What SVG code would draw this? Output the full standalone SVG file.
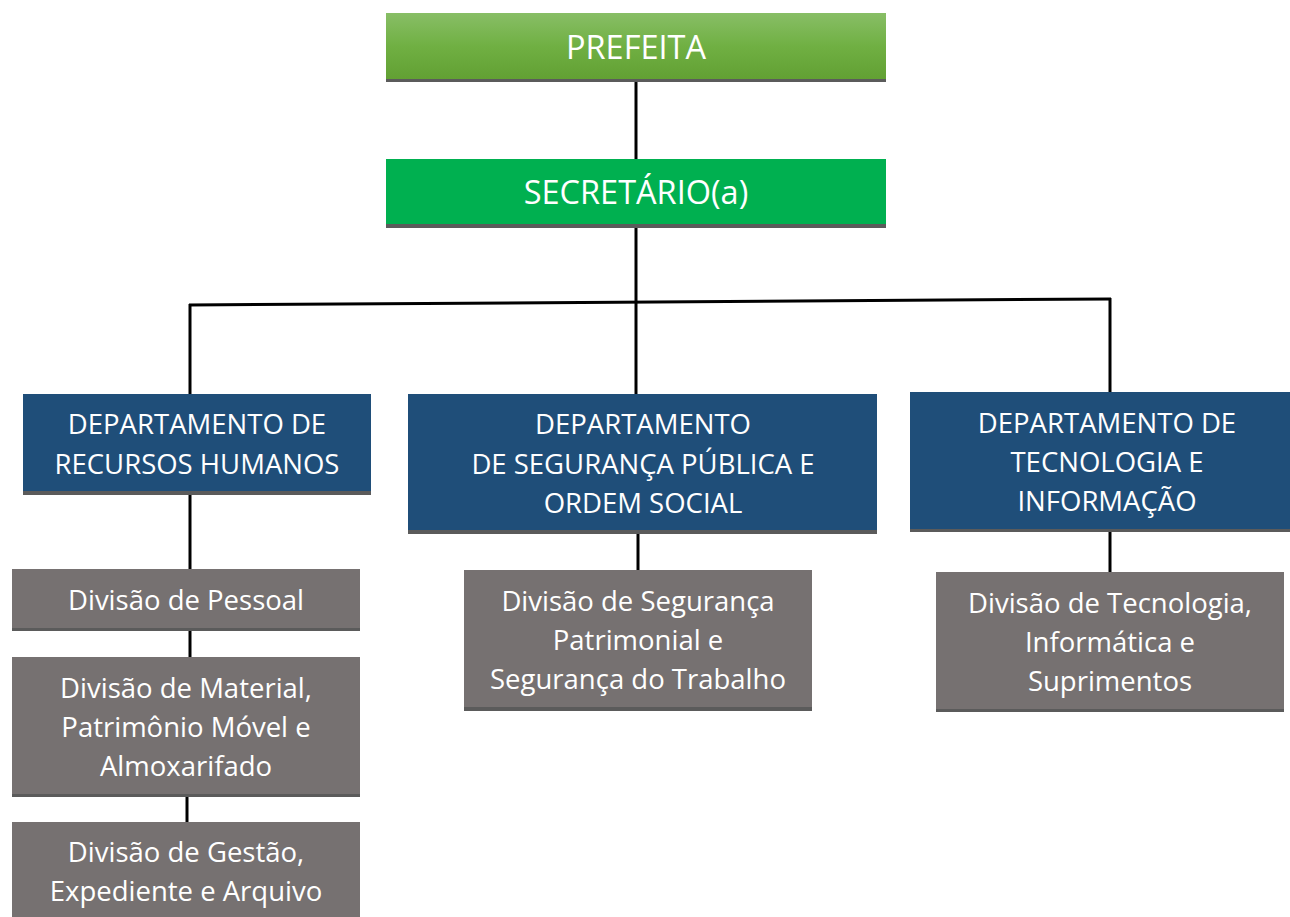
<svg xmlns="http://www.w3.org/2000/svg" width="1290" height="917" viewBox="0 0 1290 917">
<defs>
<linearGradient id="gPref" x1="0" y1="0" x2="0" y2="1">
<stop offset="0" stop-color="#88be66"/>
<stop offset="0.5" stop-color="#70b043"/>
<stop offset="1" stop-color="#62a033"/>
</linearGradient>
</defs>
<style>
.t{font-family:"Open Sans","Liberation Sans",sans-serif;fill:#ffffff;text-anchor:middle;font-size:27.5px}
.big{font-size:32.5px}
.sh{fill:#5b5b5b}
.dept{fill:#1f4e79}
.div{fill:#767171}
.c{stroke:#000;stroke-width:3;fill:none}
</style>
<g id="connectors">
<line class="c" x1="636" y1="80" x2="636" y2="160"/>
<line class="c" x1="636" y1="226" x2="636" y2="303"/>
<line class="c" x1="189" y1="305" x2="1111" y2="299"/>
<line class="c" x1="190" y1="304" x2="190" y2="395"/>
<line class="c" x1="636" y1="302" x2="636" y2="395"/>
<line class="c" x1="1110" y1="298" x2="1110" y2="393"/>
<line class="c" x1="190" y1="494" x2="190" y2="570"/>
<line class="c" x1="190" y1="630" x2="190" y2="658"/>
<line class="c" x1="187" y1="796" x2="187" y2="823"/>
<line class="c" x1="638" y1="533" x2="638" y2="571"/>
<line class="c" x1="1110" y1="531" x2="1110" y2="573"/>
</g>
<g id="prefeita">
<rect class="sh" x="386" y="13" width="500" height="69"/>
<rect x="386" y="13" width="500" height="66" fill="url(#gPref)"/>
<text class="t big" x="636" y="59">PREFEITA</text>
</g>
<g id="secretario">
<rect class="sh" x="386" y="159" width="500" height="69"/>
<rect x="386" y="159" width="500" height="65" fill="#00b050"/>
<text class="t big" x="636" y="204">SECRETÁRIO(a)</text>
</g>
<g id="dept-rh">
<rect class="sh" x="23" y="394" width="348" height="101"/>
<rect class="dept" x="23" y="394" width="348" height="97"/>
<text class="t" x="197" y="434">DEPARTAMENTO DE</text>
<text class="t" x="197" y="474">RECURSOS HUMANOS</text>
</g>
<g id="dept-seg">
<rect class="sh" x="408" y="394" width="469" height="140"/>
<rect class="dept" x="408" y="394" width="469" height="136"/>
<text class="t" x="643" y="434">DEPARTAMENTO</text>
<text class="t" x="643" y="474">DE SEGURANÇA PÚBLICA E</text>
<text class="t" x="643" y="513">ORDEM SOCIAL</text>
</g>
<g id="dept-tec">
<rect class="sh" x="910" y="392" width="394" height="140"/>
<rect class="dept" x="910" y="392" width="394" height="137"/>
<text class="t" x="1107" y="433">DEPARTAMENTO DE</text>
<text class="t" x="1107" y="472">TECNOLOGIA E</text>
<text class="t" x="1107" y="511">INFORMAÇÃO</text>
</g>
<g id="div-pessoal">
<rect class="sh" x="12" y="569" width="348" height="62"/>
<rect class="div" x="12" y="569" width="348" height="59"/>
<text class="t" x="186" y="610">Divisão de Pessoal</text>
</g>
<g id="div-material">
<rect class="sh" x="12" y="657" width="348" height="140"/>
<rect class="div" x="12" y="657" width="348" height="137"/>
<text class="t" x="186" y="698">Divisão de Material,</text>
<text class="t" x="186" y="737">Patrimônio Móvel e</text>
<text class="t" x="186" y="776">Almoxarifado</text>
</g>
<g id="div-gestao">
<rect class="div" x="12" y="822" width="348" height="95"/>
<text class="t" x="186" y="862">Divisão de Gestão,</text>
<text class="t" x="186" y="901">Expediente e Arquivo</text>
</g>
<g id="div-seguranca">
<rect class="sh" x="464" y="570" width="348" height="141"/>
<rect class="div" x="464" y="570" width="348" height="137"/>
<text class="t" x="638" y="611">Divisão de Segurança</text>
<text class="t" x="638" y="650">Patrimonial e</text>
<text class="t" x="638" y="689">Segurança do Trabalho</text>
</g>
<g id="div-tecnologia">
<rect class="sh" x="936" y="572" width="348" height="140"/>
<rect class="div" x="936" y="572" width="348" height="137"/>
<text class="t" x="1110" y="613">Divisão de Tecnologia,</text>
<text class="t" x="1110" y="652">Informática e</text>
<text class="t" x="1110" y="691">Suprimentos</text>
</g>
</svg>
